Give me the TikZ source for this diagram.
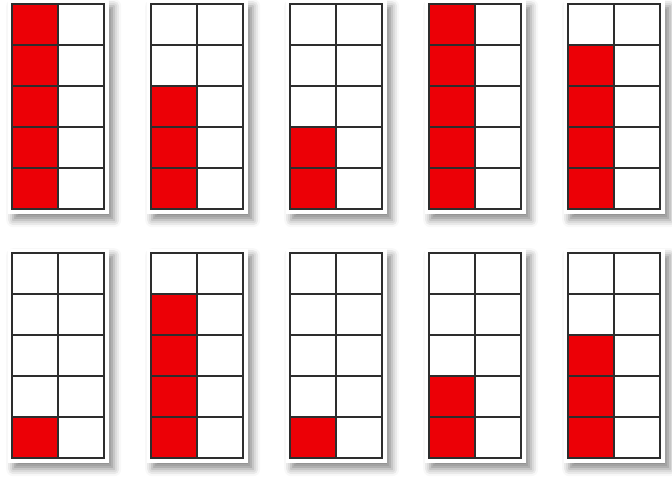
\documentclass[tikz,border=0pt]{standalone}
\usetikzlibrary{shadows.blur}
\definecolor{tfred}{RGB}{236,0,6}
\definecolor{tfline}{RGB}{45,45,45}
\begin{document}
\begin{tikzpicture}[x=1pt,y=-1pt,
    card/.style={rectangle, fill=white, minimum width=101pt, minimum height=214pt, inner sep=0pt,
        blur shadow={shadow xshift=5pt, shadow yshift=-6pt, shadow blur radius=7pt, shadow opacity=45}},
    cell/.style={draw=tfline, line width=1.3pt},
    dot/.style={fill=tfred}
]
\useasboundingbox (0,0) rectangle (672,477);

% --- ten frames: column / row / red count ---
\foreach \i/\r/\n in {0/0/5, 1/0/3, 2/0/2, 3/0/5, 4/0/4, 0/1/1, 1/1/4, 2/1/1, 3/1/2, 4/1/3} {
    \pgfmathsetmacro\xo{12+139*\i}
    \pgfmathsetmacro\yo{4+249*\r}
    \node[card, anchor=north west] (card\i\r) at (\xo-4, \yo-4) {};
    % red counters
    \fill[dot] (\xo, \yo+41*5-41*\n) rectangle (\xo+46, \yo+205);
    % grid
    \foreach \row in {0,...,4} {
        \draw[cell] (\xo, \yo+41*\row) rectangle (\xo+46, \yo+41*\row+41);
        \draw[cell] (\xo+46, \yo+41*\row) rectangle (\xo+92, \yo+41*\row+41);
    }
}

\end{tikzpicture}
\end{document}
